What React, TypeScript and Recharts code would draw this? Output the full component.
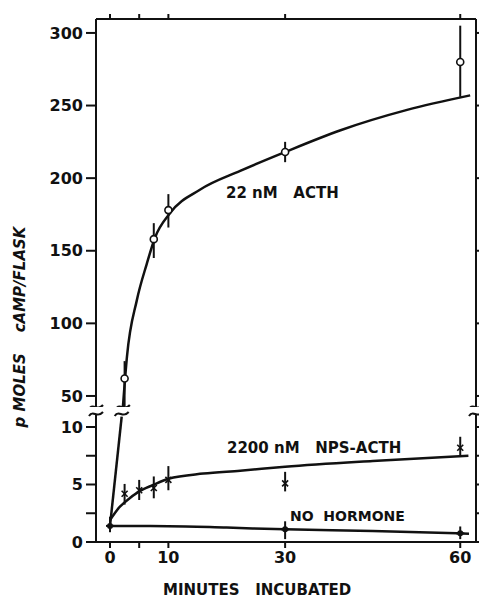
import React from 'react';
import { ComposedChart, Line, Scatter, XAxis, YAxis, ErrorBar, ReferenceDot } from 'recharts';

// minutes on x, pmoles cAMP per flask on y
const xTickMarks = [0, 5, 10, 30, 60];
const upperTicks = [50, 100, 150, 200, 250, 300];
const lowerTicks = [0, 2.5, 5, 7.5, 10];

// 22 nM ACTH measured points (error as [below, above])
const acthTimes = [2.5, 7.5, 10, 30, 60];
const acthValues = [62, 158, 178, 218, 280];
const acthErrors = [[20, 12], [13, 11], [12, 11], [7, 7], [24, 25]];

// 2200 nM NPS-ACTH measured points
const npsTimes = [2.5, 5, 7.5, 10, 30, 60];
const npsValues = [4.2, 4.5, 4.7, 5.4, 5.1, 8.2];
const npsErrors = [[0.95, 0.85], [0.85, 0.9], [0.9, 1.0], [0.9, 1.2], [0.7, 1.0], [0.8, 0.95]];

// no hormone measured points
const noneTimes = [0, 30, 60];
const noneValues = [1.4, 1.1, 0.75];
const noneErrors = [[0.55, 0.8], [0.85, 0.7], [0.5, 0.6]];

// fitted curves
const acthLowCurveT = [0, 2.0];
const acthLowCurveV = [1.4, 10.9];
const acthHighCurveT = [2.2, 2.9, 4.6, 6.3, 7.7, 10.3, 15.4, 22.3, 30, 39.5, 50.9, 61.7];
const acthHighCurveV = [42, 77, 116, 141, 159, 176, 192, 205, 218, 233, 247, 257];
const npsCurveT = [0, 1.7, 2.4, 5, 7.4, 10, 16, 22.3, 30, 45, 61.4];
const npsCurveV = [1.9, 3.07, 3.4, 4.4, 4.96, 5.5, 5.95, 6.2, 6.55, 7.05, 7.5];
const noneCurveT = [0, 10, 20, 30, 45, 61.5];
const noneCurveV = [1.4, 1.38, 1.25, 1.1, 0.95, 0.72];

const xDomain: [number, number] = [-2.4, 62.7];
const upperDomain: [number, number] = [42.4, 309.6];
const lowerDomain: [number, number] = [0, 11.13];

const zip = (t: number[], v: number[], e?: number[][]) =>
  t.map((x, i) => (e ? { t: x, v: v[i], e: e[i] } : { t: x, v: v[i] }));

const acthPts = zip(acthTimes, acthValues, acthErrors);
const npsPts = zip(npsTimes, npsValues, npsErrors);
const nonePts = zip(noneTimes, noneValues, noneErrors);

const font = '"DejaVu Sans", sans-serif';
const ink = '#111';
const tickStyle = { fill: ink, fontSize: 16, fontFamily: font, fontWeight: 'bold' };
const axisLine = { stroke: ink, strokeWidth: 2 };
const tickLine = { stroke: ink, strokeWidth: 2 };
const blank = () => '';
const sp = '\u00a0';

const OpenCircle = (p: any) => (
  <circle cx={p.cx} cy={p.cy} r={3.5} fill="#fff" stroke={ink} strokeWidth={1.6} />
);
const Cross = (p: any) => (
  <g stroke={ink} strokeWidth={1.6}>
    <line x1={p.cx - 3} y1={p.cy - 3} x2={p.cx + 3} y2={p.cy + 3} />
    <line x1={p.cx - 3} y1={p.cy + 3} x2={p.cx + 3} y2={p.cy - 3} />
  </g>
);
const Plus = (p: any) => (
  <g stroke={ink} strokeWidth={2}>
    <line x1={p.cx - 4} y1={p.cy} x2={p.cx + 4} y2={p.cy} />
    <circle cx={p.cx} cy={p.cy} r={2} fill={ink} />
  </g>
);
const Squiggle = (p: any) => (
  <path
    d={`M${p.cx - 7},${p.cy + 2} C${p.cx - 3},${p.cy - 5} ${p.cx + 1},${p.cy + 5} ${p.cx + 7},${p.cy - 2}`}
    fill="none"
    stroke={ink}
    strokeWidth={2}
  />
);

export default function App() {
  return (
    <div style={{ position: 'absolute', left: 0, top: 0, width: 479, height: 600, background: '#fff', overflow: 'hidden' }}>
      <div style={{ position: 'absolute', left: 0, top: 0 }}>
        <ComposedChart width={479} height={407} margin={{ top: 9, right: 0, bottom: 0, left: 36 }}>
          <XAxis
            type="number"
            dataKey="t"
            orientation="top"
            domain={xDomain}
            allowDataOverflow
            ticks={xTickMarks}
            tickFormatter={blank}
            tickSize={5}
            height={10}
            axisLine={axisLine}
            tickLine={tickLine}
          />
          <YAxis
            type="number"
            domain={upperDomain}
            allowDataOverflow
            ticks={upperTicks}
            width={60}
            tickSize={10}
            tickMargin={3}
            tick={tickStyle}
            axisLine={axisLine}
            tickLine={tickLine}
          />
          <YAxis
            yAxisId="r"
            orientation="right"
            type="number"
            domain={upperDomain}
            allowDataOverflow
            ticks={upperTicks}
            tickFormatter={blank}
            width={3}
            tickSize={4}
            axisLine={axisLine}
            tickLine={tickLine}
          />
          <Line
            data={zip(acthHighCurveT, acthHighCurveV)}
            dataKey="v"
            type="monotone"
            dot={false}
            stroke={ink}
            strokeWidth={2.5}
            isAnimationActive={false}
          />
          <Scatter data={acthPts} dataKey="v" shape={OpenCircle} isAnimationActive={false}>
            <ErrorBar dataKey="e" direction="y" width={0} stroke={ink} strokeWidth={2} />
          </Scatter>
          <ReferenceDot x={xDomain[0]} y={upperDomain[0]} ifOverflow="visible" shape={Squiggle} />
          <ReferenceDot x={2.2} y={upperDomain[0]} ifOverflow="visible" shape={Squiggle} />
          <ReferenceDot x={xDomain[1]} y={upperDomain[0]} ifOverflow="visible" shape={Squiggle} />
        </ComposedChart>
      </div>
      <div style={{ position: 'absolute', left: 0, top: 0 }}>
        <ComposedChart width={479} height={600} margin={{ top: 414, right: 0, bottom: 28, left: 36 }}>
          <XAxis
            type="number"
            dataKey="t"
            domain={xDomain}
            allowDataOverflow
            ticks={xTickMarks}
            tickFormatter={(v: number) => (v === 5 ? '' : String(v))}
            tickSize={6}
            tickMargin={4}
            height={30}
            tick={tickStyle}
            axisLine={axisLine}
            tickLine={tickLine}
          />
          <YAxis
            type="number"
            domain={lowerDomain}
            allowDataOverflow
            ticks={lowerTicks}
            tickFormatter={(v: number) => (v % 5 === 0 ? String(v) : '')}
            width={60}
            tickSize={10}
            tickMargin={3}
            tick={tickStyle}
            axisLine={axisLine}
            tickLine={tickLine}
          />
          <YAxis
            yAxisId="r"
            orientation="right"
            type="number"
            domain={lowerDomain}
            allowDataOverflow
            ticks={lowerTicks}
            tickFormatter={blank}
            width={3}
            tickSize={4}
            axisLine={axisLine}
            tickLine={tickLine}
          />
          <Line
            data={zip(acthLowCurveT, acthLowCurveV)}
            dataKey="v"
            type="linear"
            dot={false}
            stroke={ink}
            strokeWidth={2.5}
            isAnimationActive={false}
          />
          <Line
            data={zip(npsCurveT, npsCurveV)}
            dataKey="v"
            type="monotone"
            dot={false}
            stroke={ink}
            strokeWidth={2.5}
            isAnimationActive={false}
          />
          <Line
            data={zip(noneCurveT, noneCurveV)}
            dataKey="v"
            type="monotone"
            dot={false}
            stroke={ink}
            strokeWidth={2.5}
            isAnimationActive={false}
          />
          <Scatter data={npsPts} dataKey="v" shape={Cross} isAnimationActive={false}>
            <ErrorBar dataKey="e" direction="y" width={0} stroke={ink} strokeWidth={2} />
          </Scatter>
          <Scatter data={nonePts} dataKey="v" shape={Plus} isAnimationActive={false}>
            <ErrorBar dataKey="e" direction="y" width={0} stroke={ink} strokeWidth={2} />
          </Scatter>
          <ReferenceDot x={xDomain[0]} y={lowerDomain[1]} ifOverflow="visible" shape={Squiggle} />
          <ReferenceDot x={2.0} y={lowerDomain[1]} ifOverflow="visible" shape={Squiggle} />
          <ReferenceDot x={xDomain[1]} y={lowerDomain[1]} ifOverflow="visible" shape={Squiggle} />
        </ComposedChart>
      </div>
      <svg width={479} height={600} style={{ position: 'absolute', left: 0, top: 0, pointerEvents: 'none' }}>
        <g fontFamily={font} fontSize={15} fontWeight="bold" fill={ink}>
          <text x={226} y={198}>{`22 nM${sp}${sp}${sp}ACTH`}</text>
          <text x={227} y={453}>{`2200 nM${sp}${sp}${sp}NPS-ACTH`}</text>
          <text x={290} y={521} fontSize={14}>{`NO${sp}${sp}HORMONE`}</text>
          <text x={163} y={595}>{`MINUTES${sp}${sp}${sp}INCUBATED`}</text>
          <text x={25} y={327} fontStyle="italic" textAnchor="middle" transform="rotate(-90 25 327)">
            {`p${sp}MOLES${sp}${sp}${sp}${sp}cAMP/FLASK`}
          </text>
        </g>
      </svg>
    </div>
  );
}
